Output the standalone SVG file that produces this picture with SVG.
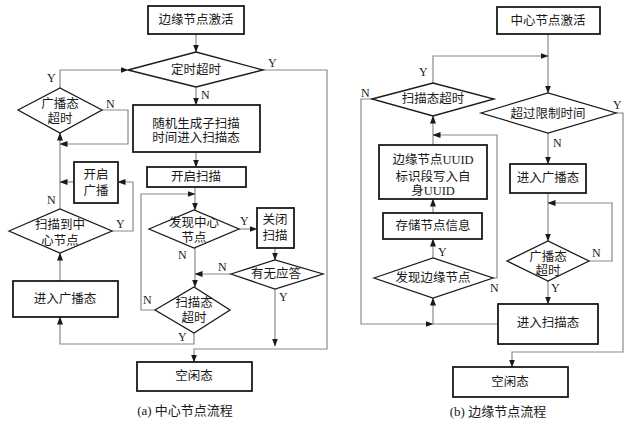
<svg xmlns="http://www.w3.org/2000/svg" width="631" height="424" viewBox="0 0 631 424">
<defs>
<marker id="ah" markerUnits="userSpaceOnUse" markerWidth="8" markerHeight="6" refX="7.5" refY="3" orient="auto">
<path d="M0,0 L8,3 L0,6 z" fill="#1a1a1a"/>
</marker>
<style>
.bx{fill:#fff;stroke:#1a1a1a;stroke-width:1.8}
.dm{fill:#fff;stroke:#1a1a1a;stroke-width:1.3}
.cn{fill:none;stroke:#8a8a8a;stroke-width:1.2}
.ar{marker-end:url(#ah)}
text{font-family:"Liberation Serif","Noto Sans CJK SC",serif;font-size:12.5px;fill:#1a1a1a;text-anchor:middle;dominant-baseline:central}
.lb{font-size:12px;text-anchor:start}
.cap{font-size:13px}
</style>
</defs>
<rect width="631" height="424" fill="#fff"/>

<g id="connectors">
<!-- left chart -->
<path class="cn ar" d="M196,34 V52"/>
<path class="cn ar" d="M196,87 V105"/>
<path class="cn ar" d="M263,70 H327 V349 H194 V362"/>
<path class="cn ar" d="M60,88 V70 H128"/>
<path class="cn ar" d="M102,110 H128 V144 H60"/>
<path class="cn ar" d="M60,209 V133"/>
<path class="cn ar" d="M74,182 H60"/>
<path class="cn ar" d="M112,231 H133 V182 H118"/>
<path class="cn ar" d="M60,281 V253"/>
<path class="cn ar" d="M194,333 V344 H60 V317"/>
<path class="cn ar" d="M196,152 V167"/>
<path class="cn ar" d="M195,187 V210"/>
<path class="cn ar" d="M155,310 H141 V194 H195"/>
<path class="cn ar" d="M239,229 H257"/>
<path class="cn ar" d="M275,248 V260"/>
<path class="cn ar" d="M231,274 H195"/>
<path class="cn ar" d="M195,248 V287"/>
<path class="cn ar" d="M275,289 V346"/>
<!-- right chart -->
<path class="cn ar" d="M548,34 V93"/>
<path class="cn ar" d="M433,83 V56 H548"/>
<path class="cn ar" d="M372,99 H361 V324 H433"/>
<path class="cn" d="M498,324 H433"/>
<path class="cn ar" d="M433,324 V298"/>
<path class="cn ar" d="M433,258 V239"/>
<path class="cn ar" d="M433,213 V199"/>
<path class="cn ar" d="M433,145 V116"/>
<path class="cn ar" d="M493,278 H497 V135 H433"/>
<path class="cn ar" d="M616,113 H623 V352 H512 V367"/>
<path class="cn ar" d="M548,133 V164"/>
<path class="cn ar" d="M548,193 V241"/>
<path class="cn ar" d="M589,261 H612 V203 H548"/>
<path class="cn ar" d="M548,281 V304"/>
</g>

<g id="labels">
<text class="lb" x="268" y="63">Y</text>
<text class="lb" x="201" y="95">N</text>
<text class="lb" x="47" y="78">Y</text>
<text class="lb" x="106" y="104">N</text>
<text class="lb" x="47" y="200">N</text>
<text class="lb" x="116" y="224">Y</text>
<text class="lb" x="178" y="337">Y</text>
<text class="lb" x="143" y="300">N</text>
<text class="lb" x="240" y="221">Y</text>
<text class="lb" x="218" y="267">N</text>
<text class="lb" x="178" y="255">N</text>
<text class="lb" x="279" y="297">Y</text>
<text class="lb" x="419" y="72">Y</text>
<text class="lb" x="361" y="93">N</text>
<text class="lb" x="438" y="252">Y</text>
<text class="lb" x="490" y="288">N</text>
<text class="lb" x="613" y="105">Y</text>
<text class="lb" x="553" y="143">N</text>
<text class="lb" x="592" y="253">N</text>
<text class="lb" x="551" y="288">Y</text>
</g>

<!-- left chart nodes -->
<g id="l_start"><rect class="bx" x="148" y="6" width="96" height="28"/><text x="196" y="20">边缘节点激活</text></g>
<g id="l_timer"><polygon class="dm" points="128,70 196,52 263,70 196,87"/><text x="196" y="70">定时超时</text></g>
<g id="l_adv_timeout"><polygon class="dm" points="18,110 60,88 102,110 60,133"/><text x="60" y="104">广播态</text><text x="60" y="119">超时</text></g>
<g id="l_random"><rect class="bx" x="133" y="105" width="127" height="47"/><text x="196" y="124">随机生成子扫描</text><text x="196" y="138">时间进入扫描态</text></g>
<g id="l_start_scan"><rect class="bx" x="147" y="167" width="99" height="20"/><text x="196" y="177">开启扫描</text></g>
<g id="l_start_adv"><rect class="bx" x="74" y="162" width="44" height="41"/><text x="96" y="175">开启</text><text x="96" y="191">广播</text></g>
<g id="l_found_center"><polygon class="dm" points="9,231 60,209 112,231 60,253"/><text x="60" y="225">扫描到中</text><text x="60" y="241">心节点</text></g>
<g id="l_enter_adv"><rect class="bx" x="13" y="281" width="105" height="36"/><text x="65" y="299">进入广播态</text></g>
<g id="l_discover"><polygon class="dm" points="149,229 194,210 239,229 194,248"/><text x="194" y="223">发现中心</text><text x="194" y="238">节点</text></g>
<g id="l_close_scan"><rect class="bx" x="257" y="208" width="37" height="40"/><text x="275" y="220">关闭</text><text x="275" y="236">扫描</text></g>
<g id="l_reply"><polygon class="dm" points="231,274 275,260 323,274 275,289"/><text x="276" y="274">有无应答</text></g>
<g id="l_scan_timeout"><polygon class="dm" points="155,310 194,287 230,310 194,333"/><text x="194" y="303">扫描态</text><text x="194" y="318">超时</text></g>
<g id="l_idle"><rect class="bx" x="137" y="362" width="115" height="29"/><text x="194" y="376">空闲态</text></g>
<text class="cap" x="185" y="410">(a) 中心节点流程</text>

<!-- right chart nodes -->
<g id="r_start"><rect class="bx" x="497" y="7" width="103" height="27"/><text x="548" y="21">中心节点激活</text></g>
<g id="r_scan_timeout"><polygon class="dm" points="372,99 433,83 494,99 433,116"/><text x="433" y="99">扫描态超时</text></g>
<g id="r_limit"><polygon class="dm" points="481,113 548,93 616,113 548,133"/><text x="548" y="114">超过限制时间</text></g>
<g id="r_enter_adv"><rect class="bx" x="510" y="164" width="76" height="29"/><text x="548" y="178">进入广播态</text></g>
<g id="r_uuid"><rect class="bx" x="379" y="145" width="108" height="54"/><text x="433" y="160">边缘节点UUID</text><text x="433" y="177">标识段写入自</text><text x="433" y="191">身UUID</text></g>
<g id="r_store"><rect class="bx" x="383" y="213" width="99" height="26"/><text x="433" y="226">存储节点信息</text></g>
<g id="r_discover"><polygon class="dm" points="374,278 433,258 493,278 433,298"/><text x="433" y="278">发现边缘节点</text></g>
<g id="r_adv_timeout"><polygon class="dm" points="507,261 548,241 589,261 548,281"/><text x="548" y="257">广播态</text><text x="548" y="271">超时</text></g>
<g id="r_enter_scan"><rect class="bx" x="498" y="304" width="100" height="40"/><text x="548" y="323">进入扫描态</text></g>
<g id="r_idle"><rect class="bx" x="453" y="367" width="115" height="30"/><text x="510" y="382">空闲态</text></g>
<text class="cap" x="498" y="411">(b) 边缘节点流程</text>
</svg>
